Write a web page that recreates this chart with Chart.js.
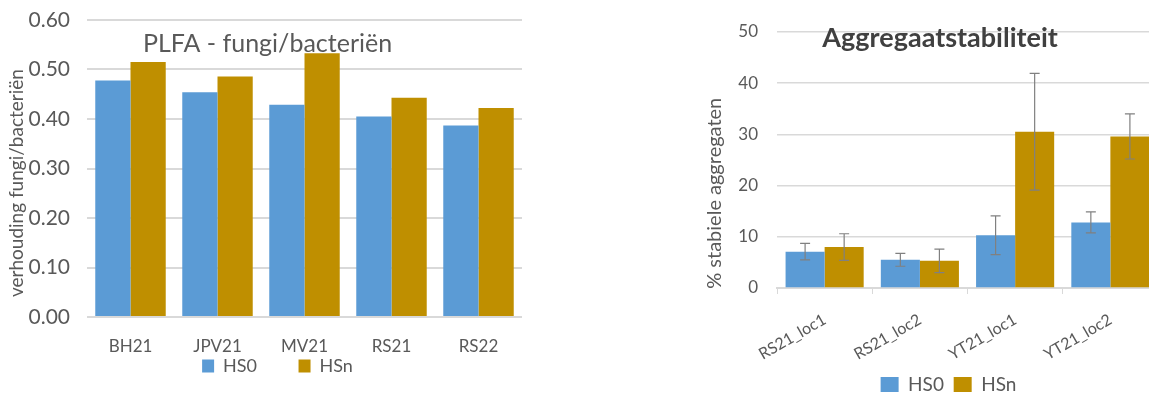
<!DOCTYPE html>
<html>
<head>
<meta charset="utf-8">
<script src="https://cdn.jsdelivr.net/npm/chart.js@4.4.1/dist/chart.umd.min.js"></script>
<style>
  html, body { margin: 0; padding: 0; background: #fff; overflow: hidden; width: 1149px; height: 396px; }
  #wrapA { position: absolute; left: 0; top: 0; width: 546px; height: 396px; }
  #wrapB { position: absolute; left: 690px; top: 0; width: 520px; height: 396px; }
</style>
</head>
<body>
<div id="wrapA"><canvas id="plfa"></canvas></div>
<div id="wrapB"><canvas id="aggr"></canvas></div>
<script>
// PLFA fungi/bacteria ratio per field
const plfaCategories = ['BH21', 'JPV21', 'MV21', 'RS21', 'RS22'];
const plfaHS0 = [0.478, 0.454, 0.429, 0.405, 0.387];
const plfaHSn = [0.515, 0.486, 0.533, 0.443, 0.422];
const plfaTicks = [0, 0.1, 0.2, 0.3, 0.4, 0.5, 0.6];

// Aggregate stability (% stable aggregates) with standard errors
const aggrCategories = ['RS21_loc1', 'RS21_loc2', 'YT21_loc1', 'YT21_loc2'];
const aggrHS0 = [7.1, 5.5, 10.3, 12.8];
const aggrHS0Err = [1.6, 1.25, 3.8, 2.05];
const aggrHSn = [8.0, 5.3, 30.5, 29.6];
const aggrHSnErr = [2.6, 2.3, 11.4, 4.4];
const aggrTicks = [0, 10, 20, 30, 40, 50];

const BLUE = '#5b9bd5';
const GOLD = '#bf8f00';
const TEXT = '#595959';
const GRID = '#d9d9d9';
const FONT = 'Lato, "Open Sans", sans-serif';
const NBSP = '\u00a0';

// Title drawn inside the plot area, office-chart style
function innerTitle(id, text, font, color, relX, offsetY) {
  return {
    id: id,
    afterDraw(chart) {
      const { ctx, chartArea } = chart;
      ctx.save();
      ctx.font = font;
      ctx.fillStyle = color;
      ctx.textAlign = 'center';
      ctx.textBaseline = 'middle';
      ctx.fillText(text, chartArea.left + chartArea.width * relX, chartArea.top + offsetY);
      ctx.restore();
    }
  };
}

// Nudge the legend block sideways after layout
function legendShift(id, dx) {
  return {
    id: id,
    afterLayout(chart) {
      const lg = chart.legend;
      if (lg) { lg.left += dx; lg.right += dx; }
    }
  };
}

// Error bars with caps, positioned through the value scale
const errorBars = {
  id: 'errorBars',
  afterDatasetsDraw(chart) {
    const { ctx } = chart;
    const yScale = chart.scales.y;
    ctx.save();
    ctx.strokeStyle = '#808080';
    ctx.lineWidth = 1.2;
    chart.data.datasets.forEach((ds, di) => {
      if (!ds.errors) return;
      const meta = chart.getDatasetMeta(di);
      meta.data.forEach((bar, i) => {
        const v = ds.data[i], e = ds.errors[i];
        const yTop = yScale.getPixelForValue(v + e);
        const yBot = yScale.getPixelForValue(v - e);
        const x = bar.x;
        ctx.beginPath();
        ctx.moveTo(x, yTop); ctx.lineTo(x, yBot);
        ctx.moveTo(x - 5, yTop); ctx.lineTo(x + 5, yTop);
        ctx.moveTo(x - 5, yBot); ctx.lineTo(x + 5, yBot);
        ctx.stroke();
      });
    });
    ctx.restore();
  }
};

// Legend entries with extra trailing room after each name
function spacedLabels(gap) {
  return chart => Chart.defaults.plugins.legend.labels.generateLabels(chart)
    .map((item, i, all) => Object.assign(item, { text: i < all.length - 1 ? item.text + gap : item.text }));
}

new Chart(document.getElementById('plfa'), {
  type: 'bar',
  data: {
    labels: plfaCategories,
    datasets: [
      { label: 'HS0', data: plfaHS0, backgroundColor: BLUE },
      { label: 'HSn', data: plfaHSn, backgroundColor: GOLD }
    ]
  },
  plugins: [
    innerTitle('plfaTitle', 'PLFA - fungi/bacteriën', '25px ' + FONT, TEXT, 0.415, 24),
    legendShift('plfaLegendShift', 14)
  ],
  options: {
    responsive: true,
    maintainAspectRatio: false,
    animation: false,
    layout: { padding: { top: 20, right: 24, bottom: 11, left: 5 } },
    datasets: { bar: { categoryPercentage: 0.81, barPercentage: 1.0 } },
    scales: {
      x: {
        grid: { display: false, drawTicks: false },
        border: { display: false },
        ticks: { color: TEXT, font: { family: FONT, size: 17 }, padding: 19 },
        afterFit(scale) { scale.height = 40; }
      },
      y: {
        min: 0, max: 0.6,
        afterBuildTicks(axis) { axis.ticks = plfaTicks.map(v => ({ value: v })); },
        grid: { color: GRID, lineWidth: 2, drawTicks: false },
        border: { display: false },
        ticks: {
          color: TEXT, font: { family: FONT, size: 21 }, padding: 17,
          callback: v => Number(v).toFixed(2)
        },
        title: {
          display: true, text: 'verhouding fungi/bacteriën' + NBSP.repeat(6),
          color: TEXT, font: { family: FONT, size: 19 }, padding: 0
        },
        afterFit(scale) { scale.width = 82; scale.paddingTop = 0; }
      }
    },
    plugins: {
      legend: {
        position: 'bottom',
        labels: {
          color: TEXT, font: { family: FONT, size: 18 }, boxWidth: 12, boxHeight: 13, padding: 0,
          generateLabels: spacedLabels(NBSP.repeat(9))
        }
      },
      tooltip: { enabled: false }
    }
  }
});

new Chart(document.getElementById('aggr'), {
  type: 'bar',
  data: {
    labels: aggrCategories,
    datasets: [
      { label: 'HS0', data: aggrHS0, errors: aggrHS0Err, backgroundColor: BLUE },
      { label: 'HSn', data: aggrHSn, errors: aggrHSnErr, backgroundColor: GOLD }
    ]
  },
  plugins: [
    errorBars,
    innerTitle('aggrTitle', 'Aggregaatstabiliteit', 'bold 27px ' + FONT, '#404040', 0.428, 6),
    legendShift('aggrLegendShift', 18)
  ],
  options: {
    responsive: true,
    maintainAspectRatio: false,
    animation: false,
    layout: { padding: { top: 32, right: 52, bottom: -8, left: 13 } },
    datasets: { bar: { categoryPercentage: 0.82, barPercentage: 1.0 } },
    scales: {
      x: {
        offset: true,
        grid: { display: true, drawOnChartArea: false, color: GRID, tickLength: 6, offset: true },
        border: { color: GRID, width: 2 },
        ticks: { color: TEXT, font: { family: FONT, size: 16 }, minRotation: 30, maxRotation: 30, padding: 16 },
        afterFit(scale) { scale.height = 87; }
      },
      y: {
        min: 0, max: 50,
        afterBuildTicks(axis) { axis.ticks = aggrTicks.map(v => ({ value: v })); },
        grid: { color: GRID, lineWidth: 1.5, drawTicks: false },
        border: { display: false },
        ticks: { color: TEXT, font: { family: FONT, size: 17 }, padding: 19 },
        title: {
          display: true, text: '% stabiele aggregaten' + NBSP.repeat(13),
          color: TEXT, font: { family: FONT, size: 20 }, padding: 0
        },
        afterFit(scale) { scale.width = 74; scale.paddingTop = 0; }
      }
    },
    plugins: {
      legend: {
        position: 'bottom',
        labels: {
          color: TEXT, font: { family: FONT, size: 19 }, boxWidth: 18, boxHeight: 15, padding: 0,
          generateLabels: spacedLabels(NBSP.repeat(2))
        }
      },
      tooltip: { enabled: false }
    }
  }
});
</script>
</body>
</html>
